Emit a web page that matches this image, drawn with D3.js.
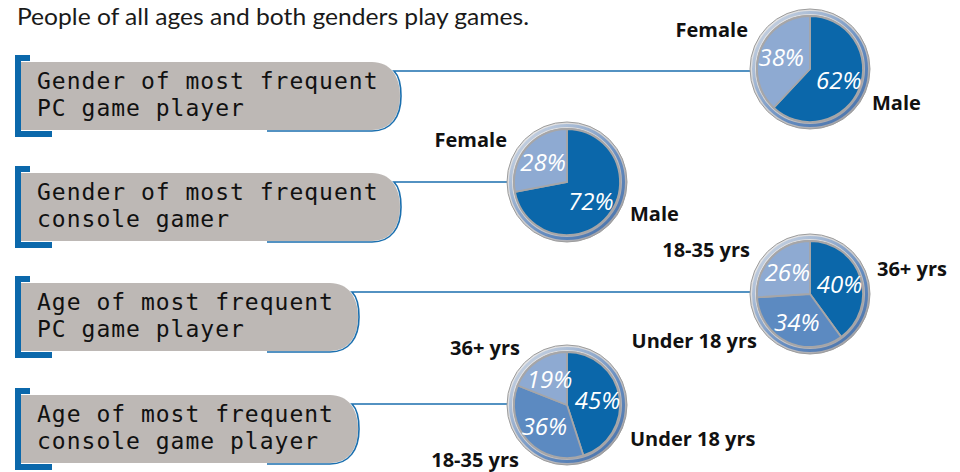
<!DOCTYPE html>
<html>
<head>
<meta charset="utf-8">
<script src="https://cdn.jsdelivr.net/npm/d3@7"></script>
<style>
  body { margin: 0; background: #fff; }
  svg { display: block; }
</style>
</head>
<body>
<div id="chart"></div>
<script>
// who plays games - four little pies hanging off tabs

const headline = "People of all ages and both genders play games."

const panelLines = [
    ["Gender of most frequent", "PC game player"],
    ["Gender of most frequent", "console gamer"],
    ["Age of most frequent", "PC game player"],
    ["Age of most frequent", "console game player"]
]

const sliceNames = [
    ["Male", "Female"],
    ["Male", "Female"],
    ["36+ yrs", "Under 18 yrs", "18-35 yrs"],
    ["Under 18 yrs", "18-35 yrs", "36+ yrs"]
]

const sliceValues = [
    [62, 38],
    [72, 28],
    [40, 34, 26],
    [45, 36, 19]
]

// layout only
const panelTop = [62, 173, 283, 395]
const panelRight = [400, 400, 358, 358]
const pieCenter = [[810, 69], [567, 182], [810, 294], [567, 405]]
// outside label spot (dx, dy of baseline from pie centre) and anchor
const nameSpots = [
    [[62, 41, "start"], [-62, -32, "end"]],
    [[63, 39, "start"], [-60, -35, "end"]],
    [[67, -18, "start"], [-53, 54, "end"], [-60, -37, "end"]],
    [[63, 41, "start"], [-48, 62, "end"], [-47, -50, "end"]]
]

const W = 960, H = 472
const blue = "#0b68ab"
const rOuter = 60, rPie = 53

const svg = d3.select("#chart").append("svg")
    .attr("width", W).attr("height", H)

const defs = svg.append("defs")
const rg = defs.append("linearGradient").attr("id", "ring")
    .attr("x1", "0%").attr("y1", "0%").attr("x2", "100%").attr("y2", "100%")
rg.append("stop").attr("offset", "0%").attr("stop-color", "#f0f0f0")
rg.append("stop").attr("offset", "55%").attr("stop-color", "#c9c9cc")
rg.append("stop").attr("offset", "100%").attr("stop-color", "#8d8f98")
const bg = defs.append("linearGradient").attr("id", "ringBlue")
    .attr("x1", "0%").attr("y1", "0%").attr("x2", "100%").attr("y2", "100%")
bg.append("stop").attr("offset", "0%").attr("stop-color", "#9fb9dc").attr("stop-opacity", 0.3)
bg.append("stop").attr("offset", "60%").attr("stop-color", "#5d88c0").attr("stop-opacity", 0.9)
bg.append("stop").attr("offset", "100%").attr("stop-color", "#3b6aa8").attr("stop-opacity", 0.9)

svg.append("text")
    .attr("x", 17).attr("y", 25)
    .attr("textLength", 512).attr("lengthAdjust", "spacingAndGlyphs")
    .style("font-family", "Lato, 'Open Sans', sans-serif")
    .style("font-size", "24px")
    .style("fill", "#1a1a1a")
    .text(headline)

const pie = d3.pie().sort(null).value(d => d)
const arc = d3.arc().innerRadius(0).outerRadius(rPie)
const labelArc = d3.arc().innerRadius(31).outerRadius(31)
const shade = n => n == 2 ? ["#0b67aa", "#8eaad2"] : ["#0b67aa", "#5c8ac1", "#8eaad2"]

function tabPath(T, R)
{
    var B = T + 68
    var p = d3.path()
    p.moveTo(21, T)
    p.lineTo(R - 28, T)
    p.bezierCurveTo(R - 10, T, R, T + 14, R, T + 34)
    p.bezierCurveTo(R, T + 54, R - 10, B, R - 28, B)
    p.lineTo(21, B)
    p.closePath()
    return p.toString()
}

function edgePath(T, R, cx)
{
    var B = T + 68
    var p = d3.path()
    p.moveTo(267, B + 1)
    p.lineTo(R - 28, B + 1)
    p.bezierCurveTo(R - 9, B + 1, R + 1, B - 13, R + 1, T + 34)
    p.bezierCurveTo(R + 1, T + 22, R - 2, T + 13, R - 6, T + 9)
    p.lineTo(cx, T + 9)
    return p.toString()
}

for (i = 0; i < panelLines.length; i++) {
    var T = panelTop[i], R = panelRight[i]
    var cx = pieCenter[i][0], cy = pieCenter[i][1]
    var g = svg.append("g")

    // bracket
    g.append("rect").attr("x", 15).attr("y", T - 7).attr("width", 6).attr("height", 82).attr("fill", blue)
    g.append("rect").attr("x", 15).attr("y", T - 7).attr("width", 15).attr("height", 6).attr("fill", blue)
    g.append("rect").attr("x", 15).attr("y", T + 69).attr("width", 37).attr("height", 6).attr("fill", blue)

    g.append("path").attr("d", tabPath(T, R)).attr("fill", "#bdb8b5")
    g.append("path").attr("d", edgePath(T, R, cx))
        .attr("fill", "none").attr("stroke", "#1b6fae").attr("stroke-width", 1.6)

    g.selectAll("text.line").data(panelLines[i]).join("text")
        .attr("class", "line")
        .attr("x", 37).attr("y", (d, k) => T + 27 + k * 27)
        .style("font-family", "'DejaVu Sans Mono', monospace")
        .style("font-size", "23px")
        .style("letter-spacing", "1.0px")
        .style("fill", "#111")
        .text(d => d)

    // the pie
    var pg = svg.append("g").attr("transform", "translate(" + cx + "," + cy + ")")
    pg.append("circle").attr("r", rOuter).attr("fill", "url(#ring)").attr("stroke", "#9c9c9c").attr("stroke-width", 1)
    pg.append("circle").attr("r", 56.5).attr("fill", "none").attr("stroke", "url(#ringBlue)").attr("stroke-width", 3)
    pg.append("circle").attr("r", rPie + 1).attr("fill", "#a3a3a6")

    var cols = shade(sliceValues[i].length)
    var arcs = pie(sliceValues[i])
    pg.selectAll("path.slice").data(arcs).join("path")
        .attr("class", "slice")
        .attr("d", arc)
        .attr("fill", (d, k) => cols[k])
        .attr("stroke", "#a6a6a8").attr("stroke-width", 1.8)

    pg.selectAll("text.pct").data(arcs).join("text")
        .attr("class", "pct")
        .attr("transform", d => "translate(" + labelArc.centroid(d) + ")")
        .attr("text-anchor", "middle").attr("dy", "0.36em")
        .style("font-family", "'Open Sans', sans-serif")
        .style("font-style", "italic")
        .style("font-size", "24px")
        .style("fill", "#fff")
        .text(d => d.data + "%")

    var spots = nameSpots[i]
    pg.selectAll("text.name").data(sliceNames[i]).join("text")
        .attr("class", "name")
        .attr("x", (d, k) => spots[k][0]).attr("y", (d, k) => spots[k][1])
        .attr("text-anchor", (d, k) => spots[k][2])
        .style("font-family", "'Open Sans', sans-serif")
        .style("font-weight", "bold")
        .style("font-size", "20px")
        .style("fill", "#111")
        .text(d => d)
}
</script>
</body>
</html>
